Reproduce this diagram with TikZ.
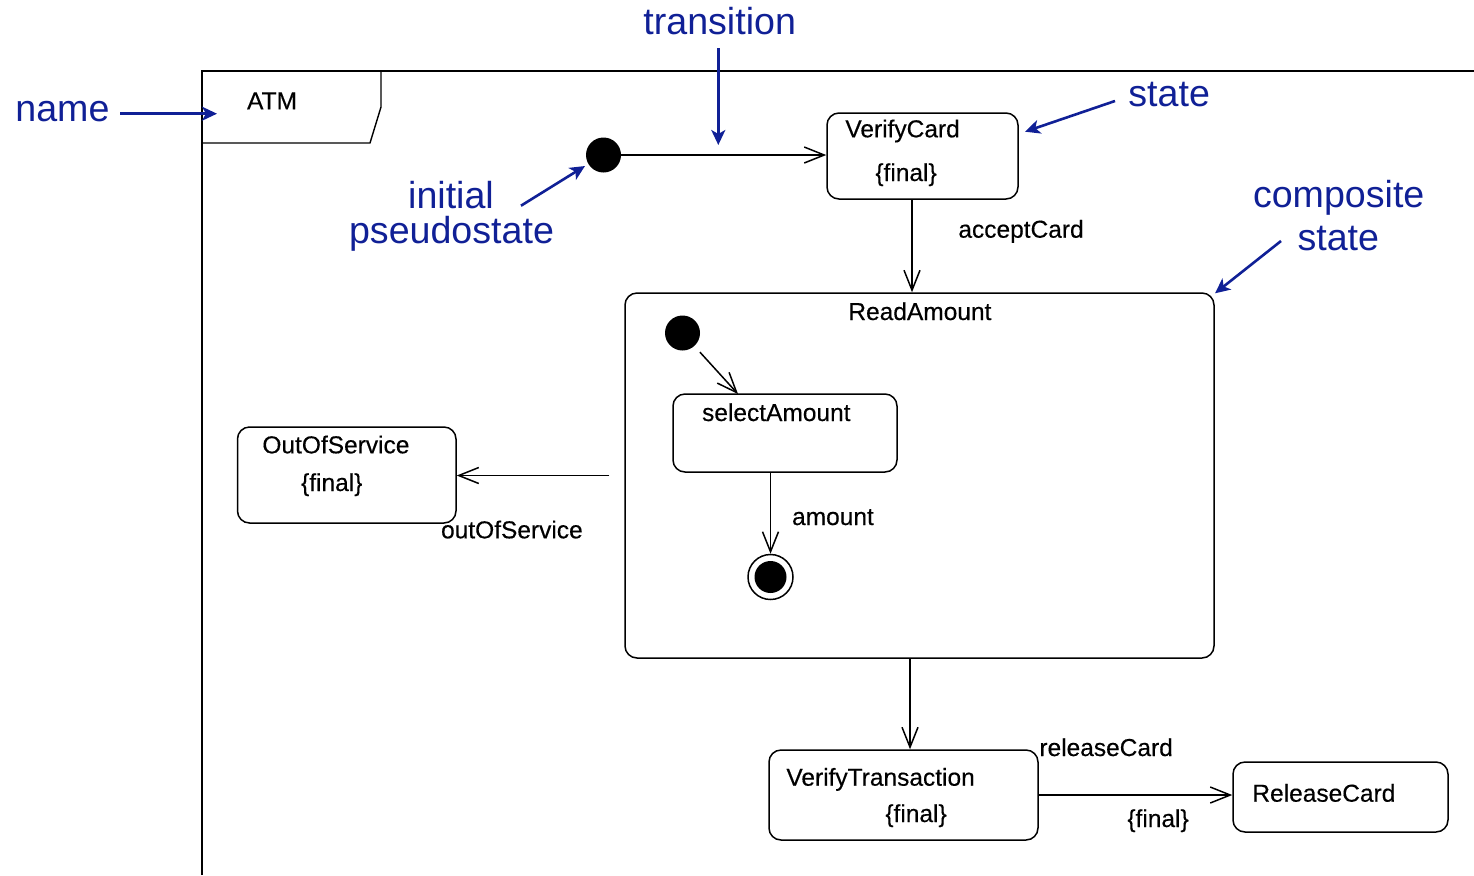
\documentclass[tikz,border=0pt]{standalone}
\usepackage{fontspec}
\setmainfont{Liberation Sans}
\newfontfamily\lblfamily[BoldFont=Liberation Sans, BoldFeatures={FakeBold=0.35}]{Liberation Sans}
\usetikzlibrary{arrows.meta,calc}
\definecolor{notecol}{RGB}{16,32,150}
\begin{document}
\begin{tikzpicture}[x=0.5pt,y=-0.5pt,
  lbl/.style={font=\lblfamily\bfseries\fontsize{12.25}{14}\selectfont, inner sep=0pt, anchor=base west},
  note/.style={font=\fontsize{18.8}{22}\selectfont, text=notecol, inner sep=0pt, anchor=base},
  statebox/.style={draw, rounded corners=6pt, line width=0.75pt, inner sep=0pt},
  tr/.style={line width=0.75pt, -{Straight Barb[length=10pt,width=8pt,line width=0.75pt]}},
  pointer/.style={draw=notecol, line width=1.3pt, -{Stealth[length=7.5pt,width=7pt,inset=2pt]}},
  dot/.style={circle, fill, inner sep=0pt, minimum size=17.5pt},
]
\useasboundingbox (0,0) rectangle (1474,875);

% frame and name tab
\draw[line width=0.7pt] (202,875) -- (202,71) -- (1474,71);
\draw[line width=0.7pt] (381,71) -- (381,107) -- (370,143) -- (202,143);
\node[lbl] (atm) at (246.7,109.3) {ATM};

% states
\node[statebox, minimum width=95.5pt, minimum height=43pt] (vc) at (922.5,156) {};
\node[statebox, minimum width=294.5pt, minimum height=182.5pt] (ra) at (919.5,475.5) {};
\node[statebox, minimum width=112pt, minimum height=39pt] (sa) at (785,433) {};
\node[statebox, minimum width=109.25pt, minimum height=48pt] (oos) at (346.75,475) {};
\node[statebox, minimum width=134.5pt, minimum height=45pt] (vt) at (903.5,795) {};
\node[statebox, minimum width=107.5pt, minimum height=35pt] (rc) at (1340.5,797) {};

% pseudostates
\node[dot] (i1) at (603.5,155) {};
\node[dot] (i2) at (682.5,333) {};
\node[circle, draw, line width=0.75pt, inner sep=0pt, minimum size=22.5pt] (fin) at (770.5,577) {};
\fill (fin.center) circle (8pt);

% state texts
\node[lbl] (vcname) at (845,137.3) {VerifyCard};
\node[lbl] (vcfin) at (875,181) {\{final\}};
\node[lbl] (raname) at (848,320) {ReadAmount};
\node[lbl] (saname) at (701.7,421) {selectAmount};
\node[lbl] (oosname) at (262,453.3) {OutOfService};
\node[lbl] (oosfin) at (300.7,491) {\{final\}};
\node[lbl] (vtname) at (786,785.7) {VerifyTransaction};
\node[lbl] (vtfin) at (885,822) {\{final\}};
\node[lbl] (rcname) at (1252,801.7) {ReleaseCard};

% transition labels
\node[lbl] (tacc) at (958,237.7) {acceptCard};
\node[lbl] (tamt) at (791.7,525) {amount};
\node[lbl] (toos) at (440.7,538.3) {outOfService};
\node[lbl] (trel) at (1039,756) {releaseCard};
\node[lbl] (trelfin) at (1127,827) {\{final\}};

% transitions
\coordinate (xacc) at (912,0);
\coordinate (xout) at (910,0);
\coordinate (c2) at (738,394);
\draw[tr] (i1.east) -- (i1 -| vc.west);
\draw[tr] (vc.south -| xacc) -- (ra.north -| xacc);
\draw[tr, shorten <=4pt] (i2) -- (c2);
\draw[tr] (sa.south -| fin) -- (fin.north);
\draw[tr, shorten <=7.5pt] (ra.west) -- (ra.west -| oos.east);
\draw[tr] (ra.south -| xout) -- (vt.north -| xout);
\draw[tr] (vt.east) -- (vt.east -| rc.west);

% annotations
\node[note, anchor=base west] (nname) at (15,121.7) {name};
\node[note, anchor=base west] (ntrans) at (643,34.5) {transition};
\node[note, anchor=base west] (nstate) at (1128,106.7) {state};
\node[note] (ninit) at (451,208) {initial};
\node[note] (npseudo) at (451.5,243.3) {pseudostate};
\node[note] (ncomp) at (1338.7,207.7) {composite};
\node[note] (ncstate) at (1338.3,250) {state};

\coordinate (pn0) at (120,113.7);  \coordinate (pn1) at (217,113.7);
\coordinate (pt0) at (718.3,48);   \coordinate (pt1) at (718.3,145);
\coordinate (ps0) at (1115,101);   \coordinate (ps1) at (1025,131.7);
\coordinate (pi0) at (521,205.7);  \coordinate (pi1) at (585,166);
\coordinate (pc0) at (1281,241);   \coordinate (pc1) at (1215,293.3);
\draw[pointer] (pn0) -- (pn1);
\draw[pointer] (pt0) -- (pt1);
\draw[pointer] (ps0) -- (ps1);
\draw[pointer] (pi0) -- (pi1);
\draw[pointer] (pc0) -- (pc1);
\end{tikzpicture}
\end{document}
